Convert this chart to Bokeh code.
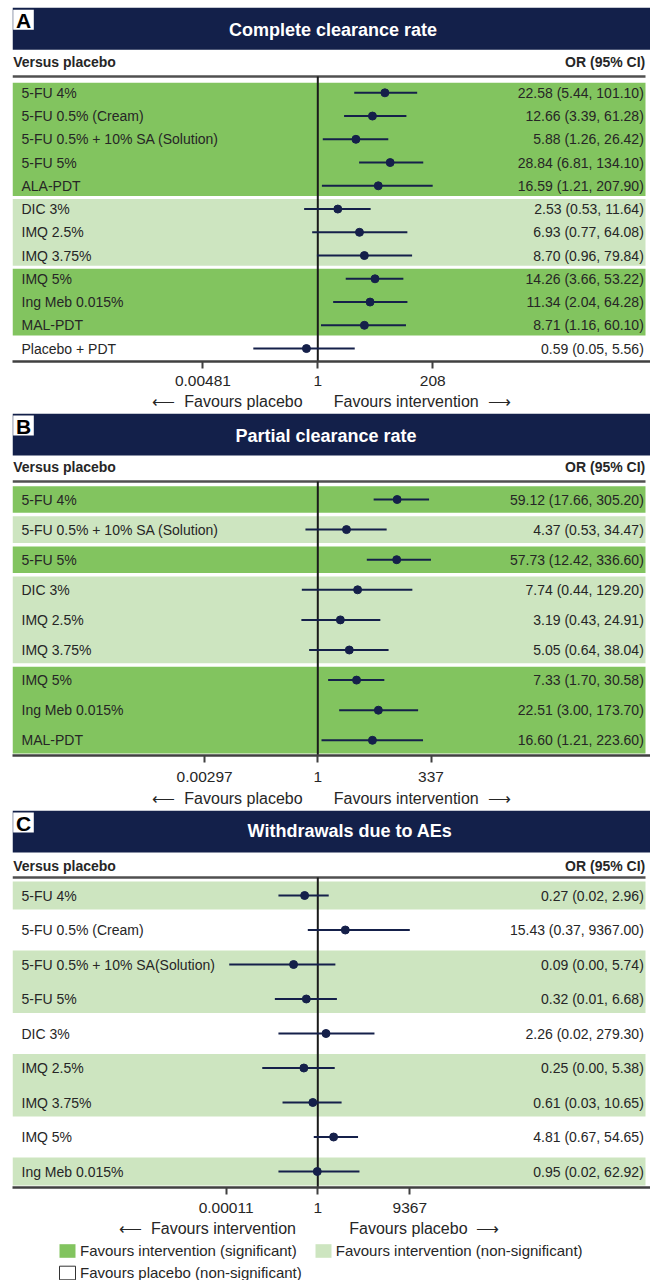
import math
from bokeh.plotting import figure
from bokeh.models import (Range1d, LinearScale, FixedTicker, ColumnDataSource,
                          Legend, LegendItem)
from bokeh.layouts import column
from bokeh.embed import file_html
from bokeh.resources import INLINE
from bokeh.core.properties import value

# ---------------- data ----------------
a_labels = ["5-FU 4%", "5-FU 0.5% (Cream)", "5-FU 0.5% + 10% SA (Solution)", "5-FU 5%", "ALA-PDT",
            "DIC 3%", "IMQ 2.5%", "IMQ 3.75%", "IMQ 5%", "Ing Meb 0.015%", "MAL-PDT", "Placebo + PDT"]
a_or = [22.58, 12.66, 5.88, 28.84, 16.59, 2.53, 6.93, 8.70, 14.26, 11.34, 8.71, 0.59]
a_lo = [5.44, 3.39, 1.26, 6.81, 1.21, 0.53, 0.77, 0.96, 3.66, 2.04, 1.16, 0.05]
a_hi = [101.10, 61.28, 26.42, 134.10, 207.90, 11.64, 64.08, 79.84, 53.22, 64.28, 60.10, 5.56]
a_group = ["sig", "sig", "sig", "sig", "sig", "ns", "ns", "ns", "sig", "sig", "sig", "none"]
a_ticks = ["0.00481", "1", "208"]

b_labels = ["5-FU 4%", "5-FU 0.5% + 10% SA (Solution)", "5-FU 5%", "DIC 3%", "IMQ 2.5%",
            "IMQ 3.75%", "IMQ 5%", "Ing Meb 0.015%", "MAL-PDT"]
b_or = [59.12, 4.37, 57.73, 7.74, 3.19, 5.05, 7.33, 22.51, 16.60]
b_lo = [17.66, 0.53, 12.42, 0.44, 0.43, 0.64, 1.70, 3.00, 1.21]
b_hi = [305.20, 34.47, 336.60, 129.20, 24.91, 38.04, 30.58, 173.70, 223.60]
b_group = ["sig", "ns", "sig", "ns", "ns", "ns", "sig", "sig", "sig"]
b_ticks = ["0.00297", "1", "337"]

c_labels = ["5-FU 4%", "5-FU 0.5% (Cream)", "5-FU 0.5% + 10% SA(Solution)", "5-FU 5%", "DIC 3%",
            "IMQ 2.5%", "IMQ 3.75%", "IMQ 5%", "Ing Meb 0.015%"]
c_or = [0.27, 15.43, 0.09, 0.32, 2.26, 0.25, 0.61, 4.81, 0.95]
c_lo = [0.02, 0.37, 0.00015, 0.014, 0.02, 0.004, 0.03, 0.67, 0.02]
c_hi = [2.96, 9367.00, 5.74, 6.68, 279.30, 5.38, 10.65, 54.65, 62.92]
c_group = ["ns", "none", "ns", "ns", "none", "ns", "ns", "none", "ns"]
c_ticks = ["0.00011", "1", "9367"]

legend_labels = ["Favours intervention (significant)", "Favours intervention (non-significant)",
                 "Favours placebo (non-significant)"]

# ---------------- styles ----------------
FONT = "Liberation Sans"
NAVY = "#13204a"
MARK = "#15204a"
DARK = "#82c45f"
LIGHT = "#cde5c0"
TXT = "#262626"
FILL = {"sig": DARK, "ns": LIGHT}
FW = 638
LEFT = 12
X1_PX = 305.3
NB = "\u00a0"
LARR = "\u27f5"
RARR = "\u27f6"


def make_panel(letter, title, title_cx, labels, orv, lo, hi, groups, ticks, tick_off,
               fav_label, frame_h, border_bottom, header_top, title_y, versus_y, line_y,
               row0, step, gap, tick_standoff, label_standoff):
    M = float(ticks[2])
    ppd = tick_off / math.log10(M)
    x_lo = 10 ** (-X1_PX / ppd)
    x_hi = 10 ** ((FW - X1_PX) / ppd)
    p = figure(frame_width=FW, frame_height=frame_h, x_axis_type="log",
               x_range=Range1d(x_lo, x_hi), y_range=Range1d(frame_h, 0),
               y_axis_location=None, toolbar_location=None, output_backend="svg",
               min_border_left=LEFT, min_border_right=0, min_border_top=0,
               min_border_bottom=border_bottom)
    p.extra_x_ranges = {"px": Range1d(0, FW)}
    p.extra_x_scales = {"px": LinearScale()}
    p.outline_line_color = None
    p.xgrid.visible = False
    p.ygrid.visible = False
    p.background_fill_color = "white"
    p.border_fill_color = "white"

    n = len(labels)
    ys = [row0 + i * step for i in range(n)]

    # bands
    bl, br, bt, bb, bc = [], [], [], [], []
    i = 0
    while i < n:
        j = i
        while j + 1 < n and groups[j + 1] == groups[i]:
            j += 1
        if groups[i] in FILL:
            bl.append(0); br.append(633)
            bt.append(ys[i] - step / 2 + gap / 2)
            bb.append(ys[j] + step / 2 - gap / 2)
            bc.append(FILL[groups[i]])
        i = j + 1
    p.quad(left="l", right="r", top="t", bottom="b", fill_color="c", line_color=None,
           source=ColumnDataSource(dict(l=bl, r=br, t=bt, b=bb, c=bc)), x_range_name="px")

    # header
    h0 = header_top
    p.quad(left=[0], right=[FW], top=[h0], bottom=[h0 + 42], fill_color=NAVY,
           line_color=None, x_range_name="px")
    p.quad(left=[0.7], right=[21.3], top=[h0 + 2], bottom=[h0 + 22], fill_color="white",
           line_color=None, x_range_name="px")
    p.text(x=[11], y=[h0 + 12.5], text=[letter], text_align="center", text_baseline="middle",
           text_font=value(FONT), text_font_style="bold", text_font_size="21px",
           text_color="black", x_range_name="px")
    p.text(x=[title_cx - LEFT], y=[title_y], text=[title], text_align="center",
           text_baseline="middle", text_font=value(FONT), text_font_style="bold",
           text_font_size="18px", text_color="white", x_range_name="px")

    # column headings
    p.text(x=[0.7], y=[versus_y], text=["Versus placebo"], text_baseline="middle",
           text_font=value(FONT), text_font_style="bold", text_font_size="14px",
           text_color=TXT, x_range_name="px")
    p.text(x=[632.7], y=[versus_y], text=["OR (95% CI)"], text_baseline="middle",
           text_align="right", text_font=value(FONT), text_font_style="bold",
           text_font_size="14px", text_color=TXT, x_range_name="px")
    p.segment(x0=[0], x1=[633], y0=[line_y], y1=[line_y], line_color="#505050",
              line_width=2.5, x_range_name="px")

    # reference line at OR = 1
    p.segment(x0=[1], x1=[1], y0=[line_y], y1=[frame_h], line_color="#1a1a1a", line_width=2)

    # CIs and points
    p.segment(x0=lo, x1=hi, y0=ys, y1=ys, line_color=MARK, line_width=2)
    p.scatter(x=orv, y=ys, size=8, fill_color=MARK, line_color=MARK)

    # row texts
    p.text(x=[9] * n, y=ys, text=labels, text_baseline="middle", text_font=value(FONT),
           text_font_size="14px", text_color=TXT, x_range_name="px")
    ci_text = [f"{o:.2f} ({l:.2f}, {h:.2f})" for o, l, h in zip(orv, lo, hi)]
    p.text(x=[631.3] * n, y=ys, text=ci_text, text_baseline="middle", text_align="right",
           text_font=value(FONT), text_font_size="14px", text_color=TXT, x_range_name="px")

    # axis
    tick_vals = [float(t) for t in ticks]
    ax = p.xaxis[0]
    ax.ticker = FixedTicker(ticks=tick_vals, minor_ticks=[])
    ax.major_label_overrides = {v: t for v, t in zip(tick_vals, ticks)}
    ax.axis_line_color = "#404040"
    ax.axis_line_width = 2.5
    ax.major_tick_line_color = "#404040"
    ax.major_tick_line_width = 2
    ax.major_tick_out = 7
    ax.major_tick_in = 0
    ax.minor_tick_line_color = None
    ax.major_label_standoff = tick_standoff
    ax.major_label_text_font = FONT
    ax.major_label_text_font_size = "15.5px"
    ax.major_label_text_color = TXT
    ax.axis_label = fav_label
    ax.axis_label_standoff = label_standoff
    ax.axis_label_text_font = FONT
    ax.axis_label_text_font_style = "normal"
    ax.axis_label_text_font_size = "16px"
    ax.axis_label_text_color = TXT
    return p


fav_ab = LARR + NB * 2 + "Favours placebo" + NB * 7 + "Favours intervention" + NB * 2 + RARR
fav_c = (LARR + NB * 2 + "Favours intervention" + NB * 12 + "Favours placebo" + NB * 2
         + RARR + NB * 10)

pa = make_panel("A", "Complete clearance rate", 332.5, a_labels, a_or, a_lo, a_hi, a_group,
                a_ticks, 114.9, fav_ab, frame_h=361, border_bottom=52, header_top=7.3,
                title_y=29, versus_y=61.7, line_y=76, row0=92.3, step=23.25, gap=3,
                tick_standoff=7, label_standoff=4)
pb = make_panel("B", "Partial clearance rate", 325.5, b_labels, b_or, b_lo, b_hi, b_group,
                b_ticks, 113.2, fav_ab, frame_h=342, border_bottom=55, header_top=0,
                title_y=22, versus_y=53, line_y=68, row0=86, step=30.1, gap=3.5,
                tick_standoff=9, label_standoff=5)
pc = make_panel("C", "Withdrawals due to AEs", 349.5, c_labels, c_or, c_lo, c_hi, c_group,
                c_ticks, 92, fav_c, frame_h=377, border_bottom=53, header_top=0,
                title_y=20, versus_y=55, line_y=67, row0=85, step=34.5, gap=6.5,
                tick_standoff=8, label_standoff=4)

# legend strip
LH = 40
lg = figure(frame_width=FW, frame_height=LH, x_range=Range1d(0, 1), y_range=Range1d(0, 1),
            x_axis_location=None, y_axis_location=None, toolbar_location=None,
            output_backend="svg", min_border_left=LEFT, min_border_right=0, min_border_top=0,
            min_border_bottom=0)
lg.outline_line_color = None
lg.xgrid.visible = False
lg.ygrid.visible = False
off = dict(left=[5], right=[6], top=[6], bottom=[5])
r1 = lg.quad(source=ColumnDataSource(off), left="left", right="right", top="top",
             bottom="bottom", fill_color=DARK, line_color=None)
r2 = lg.quad(source=ColumnDataSource(off), left="left", right="right", top="top",
             bottom="bottom", fill_color=LIGHT, line_color=None)
r3 = lg.quad(source=ColumnDataSource(off), left="left", right="right", top="top",
             bottom="bottom", fill_color="white", line_color="#333333", line_width=1)

common = dict(margin=0, padding=0, glyph_width=20, glyph_height=17, label_height=15,
              label_standoff=3, label_text_font=FONT, label_text_font_size="15px",
              label_text_color=TXT, border_line_color=None, background_fill_alpha=0)
leg1 = Legend(items=[LegendItem(label=legend_labels[0], renderers=[r1]),
                     LegendItem(label=legend_labels[1], renderers=[r2])],
              location=(45, 21), orientation="horizontal", spacing=16, **common)
leg2 = Legend(items=[LegendItem(label=legend_labels[2], renderers=[r3])],
              location=(45, -1), orientation="horizontal", **common)
lg.add_layout(leg1)
lg.add_layout(leg2)

layout = column(pa, pb, pc, lg, spacing=0)
open("out.html", "w").write(file_html(layout, INLINE))
